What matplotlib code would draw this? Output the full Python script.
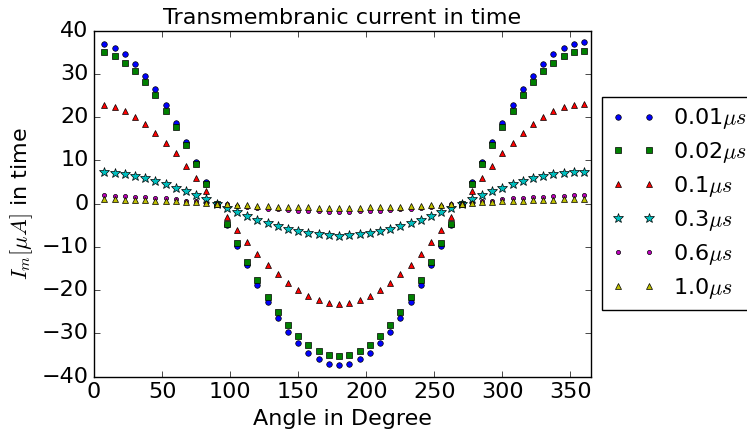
# plot_current.py

import matplotlib

matplotlib.use("Agg")
import matplotlib.pyplot as plt


# angles (deg), 7.5 deg step
angle = [
    7.5, 15.0, 22.5, 30.0, 37.5, 45.0, 52.5, 60.0, 67.5, 75.0, 82.5, 90.0,
    97.5, 105.0, 112.5, 120.0, 127.5, 135.0, 142.5, 150.0, 157.5, 165.0, 172.5, 180.0,
    187.5, 195.0, 202.5, 210.0, 217.5, 225.0, 232.5, 240.0, 247.5, 255.0, 262.5, 270.0,
    277.5, 285.0, 292.5, 300.0, 307.5, 315.0, 322.5, 330.0, 337.5, 345.0, 352.5, 360.0,
]

# I_m values (uA)
i_001 = [
    37.0, 36.0, 34.5, 32.3, 29.6, 26.4, 22.7, 18.7, 14.3, 9.7, 4.9, 0.0,
    -4.9, -9.7, -14.3, -18.7, -22.7, -26.4, -29.6, -32.3, -34.5, -36.0, -37.0, -37.3,
    -37.0, -36.0, -34.5, -32.3, -29.6, -26.4, -22.7, -18.7, -14.3, -9.7, -4.9, 0.0,
    4.9, 9.7, 14.3, 18.7, 22.7, 26.4, 29.6, 32.3, 34.5, 36.0, 37.0, 37.3,
]
i_002 = [
    35.0, 34.1, 32.6, 30.6, 28.0, 25.0, 21.5, 17.7, 13.5, 9.1, 4.6, 0.0,
    -4.6, -9.1, -13.5, -17.7, -21.5, -25.0, -28.0, -30.6, -32.6, -34.1, -35.0, -35.3,
    -35.0, -34.1, -32.6, -30.6, -28.0, -25.0, -21.5, -17.7, -13.5, -9.1, -4.6, 0.0,
    4.6, 9.1, 13.5, 17.7, 21.5, 25.0, 28.0, 30.6, 32.6, 34.1, 35.0, 35.3,
]
i_01 = [
    22.9, 22.3, 21.3, 20.0, 18.3, 16.3, 14.1, 11.6, 8.8, 6.0, 3.0, 0.0,
    -3.0, -6.0, -8.8, -11.6, -14.1, -16.3, -18.3, -20.0, -21.3, -22.3, -22.9, -23.1,
    -22.9, -22.3, -21.3, -20.0, -18.3, -16.3, -14.1, -11.6, -8.8, -6.0, -3.0, 0.0,
    3.0, 6.0, 8.8, 11.6, 14.1, 16.3, 18.3, 20.0, 21.3, 22.3, 22.9, 23.1,
]
i_03 = [
    7.3, 7.1, 6.8, 6.4, 5.9, 5.2, 4.5, 3.7, 2.8, 1.9, 1.0, 0.0,
    -1.0, -1.9, -2.8, -3.7, -4.5, -5.2, -5.9, -6.4, -6.8, -7.1, -7.3, -7.4,
    -7.3, -7.1, -6.8, -6.4, -5.9, -5.2, -4.5, -3.7, -2.8, -1.9, -1.0, 0.0,
    1.0, 1.9, 2.8, 3.7, 4.5, 5.2, 5.9, 6.4, 6.8, 7.1, 7.3, 7.4,
]
i_06 = [
    1.9, 1.8, 1.8, 1.6, 1.5, 1.3, 1.2, 1.0, 0.7, 0.5, 0.2, 0.0,
    -0.2, -0.5, -0.7, -1.0, -1.2, -1.3, -1.5, -1.6, -1.8, -1.8, -1.9, -1.9,
    -1.9, -1.8, -1.8, -1.6, -1.5, -1.3, -1.2, -1.0, -0.7, -0.5, -0.2, 0.0,
    0.2, 0.5, 0.7, 1.0, 1.2, 1.3, 1.5, 1.6, 1.8, 1.8, 1.9, 1.9,
]
i_10 = [
    1.0, 1.0, 0.9, 0.9, 0.8, 0.7, 0.6, 0.5, 0.4, 0.3, 0.1, 0.0,
    -0.1, -0.3, -0.4, -0.5, -0.6, -0.7, -0.8, -0.9, -0.9, -1.0, -1.0, -1.0,
    -1.0, -1.0, -0.9, -0.9, -0.8, -0.7, -0.6, -0.5, -0.4, -0.3, -0.1, 0.0,
    0.1, 0.3, 0.4, 0.5, 0.6, 0.7, 0.8, 0.9, 0.9, 1.0, 1.0, 1.0,
]

labels = ["0.01$\\mu s$", "0.02$\\mu s$", "0.1$\\mu s$", "0.3$\\mu s$", "0.6$\\mu s$", "1.0$\\mu s$"]
series = [i_001, i_002, i_01, i_03, i_06, i_10]
styles = [("bo", 4), ("gs", 4.5), ("r^", 4.5), ("c*", 7.5), ("mo", 3), ("y^", 4.5)]

plt.style.use("classic")
plt.rcParams["font.size"] = 16

fig = plt.figure(figsize=(7.47, 4.30), dpi=100, facecolor="white")
ax = fig.add_axes([0.126, 0.124, 0.665, 0.805])

for vals, lab, (fmt, ms) in zip(series, labels, styles):
    ax.plot(angle, vals, fmt, markersize=ms, markeredgewidth=0.5, label=lab)

ax.set_xlim(0, 365)
ax.set_ylim(-40, 40)
ax.set_xticks(range(0, 351, 50))
ax.set_yticks(range(-40, 41, 10))
ax.set_title("Transmembranic current in time", fontsize=16)
ax.set_xlabel("Angle in Degree", fontsize=16)
ax.set_ylabel("$I_m[\\mu A]$ in time", fontsize=16)
# legend sits outside the axes, cut at the right edge like the original
ax.legend(loc="center left", bbox_to_anchor=(1.023, 0.5), borderaxespad=0,
          numpoints=2, fontsize=16, labelspacing=0.4)

fig.savefig("out.png", dpi=100, facecolor="white")
